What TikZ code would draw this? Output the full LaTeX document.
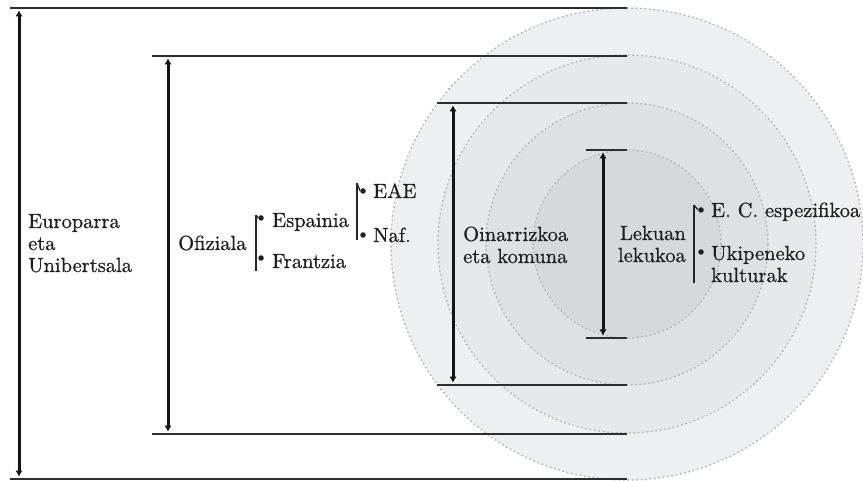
\documentclass[tikz,border=0pt]{standalone}
\usepackage{fontspec}
\setmainfont{lmroman10-regular.otf}[FakeBold=0.7]
\usetikzlibrary{arrows.meta}
\definecolor{ringA}{HTML}{EEEFF0}
\definecolor{ringB}{HTML}{E7E8EA}
\definecolor{ringC}{HTML}{DFE0E2}
\definecolor{ringD}{HTML}{D6D8DA}
\definecolor{dotcol}{HTML}{B3B4B6}
\definecolor{linecol}{HTML}{2E2E2E}
\tikzset{
 ring/.style={draw=dotcol, line width=1.5pt, dash pattern=on 0.8pt off 3.6pt, line cap=round},
 level/.style={draw=linecol, line width=1.4pt},
 span/.style={draw=black!92, line width=3pt, {Latex[length=6pt,width=7.5pt]}-{Latex[length=6pt,width=7.5pt]}, shorten <=2.5pt, shorten >=2.5pt},
 lbl/.style={inner sep=0pt, font=\fontsize{20.5}{22}\selectfont, text=black!88},
 brace/.style={draw=black!85, line width=1.3pt},
 dot/.style={circle, fill=black!88, inner sep=0pt, minimum size=5.5pt},
}
\begin{document}
\begin{tikzpicture}[x=1pt,y=-1pt]
\fill[white] (0,0) rectangle (863,481);
\useasboundingbox (0,0) rectangle (863,481);
\begin{scope}
\clip (0,0) rectangle (863,481);
\coordinate (C) at (627,244);
\path[ring, fill=ringA] (C) circle[radius=236pt];
\path[ring, fill=ringB] (C) circle[radius=189pt];
\path[ring, fill=ringC] (C) circle[radius=141pt];
\path[ring, fill=ringD] (C) circle[radius=94pt];
\end{scope}
% levels
\coordinate (L1a) at (10,8);   \coordinate (L1b) at (627,8);
\coordinate (L1c) at (10,479); \coordinate (L1d) at (627,479);
\coordinate (L2a) at (152,56);  \coordinate (L2b) at (627,56);
\coordinate (L2c) at (152,434); \coordinate (L2d) at (627,434);
\coordinate (L3a) at (437,103); \coordinate (L3b) at (627,103);
\coordinate (L3c) at (437,385); \coordinate (L3d) at (627,385);
\coordinate (L4a) at (586,150); \coordinate (L4b) at (627,150);
\coordinate (L4c) at (586,338); \coordinate (L4d) at (627,338);
\draw[level] (L1a) -- (L1b);
\draw[level] (L1c) -- (L1d);
\draw[level] (L2a) -- (L2b);
\draw[level] (L2c) -- (L2d);
\draw[level] (L3a) -- (L3b);
\draw[level] (L3c) -- (L3d);
\draw[level] (L4a) -- (L4b);
\draw[level] (L4c) -- (L4d);
% spans
\coordinate (A1t) at (19,8);   \coordinate (A1b) at (19,479);
\coordinate (A2t) at (168,56); \coordinate (A2b) at (168,434);
\coordinate (A3t) at (453,103); \coordinate (A3b) at (453,385);
\coordinate (A4t) at (603,150); \coordinate (A4b) at (603,338);
\draw[span] (A1t) -- (A1b);
\draw[span] (A2t) -- (A2b);
\draw[span] (A3t) -- (A3b);
\draw[span] (A4t) -- (A4b);
% labels
\node[lbl, anchor=base west] (eu1) at (28,228) {Europarra};
\node[lbl, anchor=base west] (eu2) at (28,250) {eta};
\node[lbl, anchor=base west] (eu3) at (28,272) {Unibertsala};
\node[lbl, anchor=base west] (of) at (178,250) {Ofiziala};
\node[lbl, anchor=base west] (es) at (272,227) {Espainia};
\node[lbl, anchor=base west] (fr) at (272,268) {Frantzia};
\node[lbl, anchor=base west] (eae) at (373,198) {EAE};
\node[lbl, anchor=base west] (naf) at (373,242) {Naf.};
\node[lbl, anchor=base west] (oi1) at (463,241) {Oinarrizkoa};
\node[lbl, anchor=base west] (oi2) at (463,263) {eta komuna};
\node[lbl, anchor=base east] (le1) at (686,240) {Lekuan};
\node[lbl, anchor=base east] (le2) at (686,262) {lekukoa};
\node[lbl, anchor=base west] (ec) at (711,217) {E. C. espezifikoa};
\node[lbl, anchor=base west] (uk1) at (711,260) {Ukipeneko};
\node[lbl, anchor=base west] (uk2) at (711,282) {kulturak};
% brackets
\coordinate (B1t) at (256,215); \coordinate (B1b) at (256,271);
\coordinate (B2t) at (357,183); \coordinate (B2b) at (357,240);
\coordinate (B3t) at (694,205); \coordinate (B3b) at (694,283);
\draw[brace] (B1t) -- (B1b);
\draw[brace] (B2t) -- (B2b);
\draw[brace] (B3t) -- (B3b);
\node[dot] (d1) at (261,218) {};
\node[dot] (d2) at (261,258) {};
\node[dot] (d3) at (363,191) {};
\node[dot] (d4) at (363,235) {};
\node[dot] (d5) at (701,210) {};
\node[dot] (d6) at (701,252) {};
\draw[brace] (B1t) -- (d1.west);
\draw[brace] (B2t) -- (d3.west);
\draw[brace] (B3t) -- (d5.west);
\end{tikzpicture}
\end{document}
